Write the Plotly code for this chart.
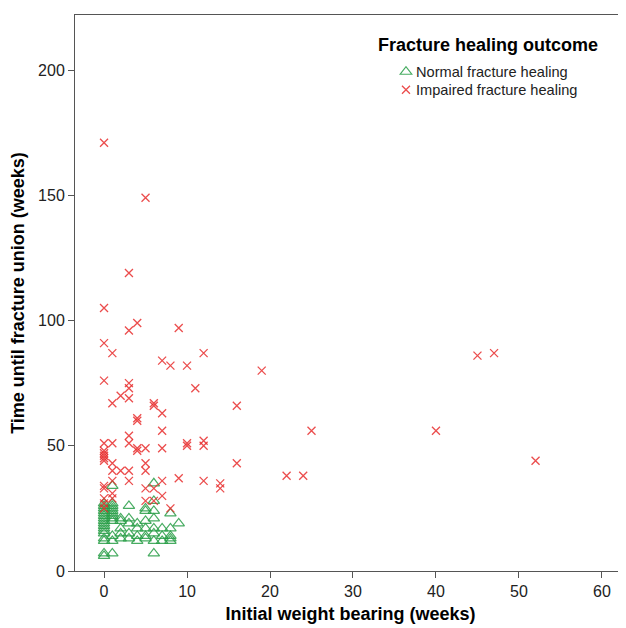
import plotly.graph_objects as go

# Normal fracture healing (green triangles)
normal_x = ([0]*17 + [1]*12 + [2]*5 + [3]*5 + [4]*4 + [5]*6 + [6]*8 + [7]*3 + [8]*5 + [9])
normal_y = ([27, 26, 25, 24, 23, 22, 21, 20, 19, 18, 17, 16, 15, 13, 12, 7, 6] +
            [34, 27, 26, 25, 24, 23, 22, 21, 20, 14, 12, 7] +
            [21, 20, 17, 15, 13] +
            [26, 21, 19, 15, 13] +
            [19, 17, 14, 12] +
            [25, 24, 20, 17, 14, 13] +
            [35, 28, 24, 21, 17, 15, 12, 7] +
            [17, 14, 12] +
            [23, 17, 14, 13, 12] +
            [19])

# Impaired fracture healing (red crosses)
impaired_x = ([0]*15 + [1]*8 + [2]*2 + [3]*9 + [4]*5 + [5]*6 + [6]*4 + [7]*6 + [8]*2 + [9]*2 +
              [10]*3 + [11] + [12]*4 + [14]*2 + [16]*2 + [19, 22, 24, 25, 40, 45, 47, 52])
impaired_y = ([171, 105, 91, 76, 51, 48, 47, 46, 45, 44, 34, 33, 29, 27, 25] +
              [87, 67, 51, 43, 40, 36, 31, 29] +
              [70, 40] +
              [119, 96, 75, 73, 69, 54, 51, 40, 36] +
              [99, 61, 60, 49, 48] +
              [149, 49, 43, 40, 33, 28] +
              [67, 66, 33, 28] +
              [84, 63, 56, 49, 36, 30] +
              [82, 25] +
              [97, 37] +
              [82, 51, 50] +
              [73] +
              [87, 52, 50, 36] +
              [35, 33] +
              [66, 43] +
              [80, 38, 38, 56, 56, 86, 87, 44])

x_ticks = [0, 10, 20, 30, 40, 50, 60]
y_ticks = [0, 50, 100, 150, 200]
series_names = ["Normal fracture healing", "Impaired fracture healing"]
legend_title = "Fracture healing outcome"

FONT = "Arial, Liberation Sans, sans-serif"
GREEN = "rgba(40,158,70,0.85)"
RED = "rgba(232,45,45,0.85)"

fig = go.Figure()
fig.add_trace(go.Scatter(
    x=normal_x, y=normal_y, mode="markers", name="", legend="legend",
    marker=dict(symbol="triangle-up-open", size=10, color=GREEN, line=dict(width=1.2, color=GREEN)),
))
fig.add_trace(go.Scatter(
    x=impaired_x, y=impaired_y, mode="markers", name="", legend="legend2",
    marker=dict(symbol="x-thin-open", size=8, color=RED, line=dict(width=1.3, color=RED)),
))

leg_common = dict(xanchor="left", yanchor="middle", bgcolor="rgba(0,0,0,0)",
                  font=dict(family=FONT, size=15, color="#222"), itemwidth=30)

fig.update_layout(
    width=626, height=628,
    margin=dict(l=67, r=8, t=7, b=65),
    plot_bgcolor="white", paper_bgcolor="white",
    font=dict(family=FONT, size=15, color="#222"),
    showlegend=True,
    legend=dict(x=0.5644, y=0.8975, **leg_common),
    legend2=dict(x=0.5644, y=0.865, **leg_common),
    annotations=[
        dict(text="<b>" + legend_title + "</b>", x=0.7495, y=0.946, xref="paper", yref="paper",
             xanchor="center", yanchor="middle", showarrow=False,
             font=dict(family=FONT, size=18, color="black")),
        dict(text=series_names[0], x=0.6154, y=0.8975, xref="paper", yref="paper",
             xanchor="left", yanchor="middle", showarrow=False,
             font=dict(family=FONT, size=14.6, color="#222")),
        dict(text=series_names[1], x=0.6154, y=0.865, xref="paper", yref="paper",
             xanchor="left", yanchor="middle", showarrow=False,
             font=dict(family=FONT, size=14.6, color="#222")),
    ],
)
fig.update_xaxes(
    range=[-3.5, 62.9], tickvals=x_ticks, ticktext=[str(v) for v in x_ticks],
    showgrid=False, zeroline=False, showline=True, linecolor="#555", linewidth=1,
    mirror=True, ticks="outside", ticklen=6, tickcolor="#555", automargin=False,
    tickfont=dict(family=FONT, size=16, color="#222"),
    title=dict(text="<b>Initial weight bearing (weeks)</b>", font=dict(family=FONT, size=18, color="black"), standoff=8),
)
fig.update_yaxes(
    range=[0, 222], tickvals=y_ticks, ticktext=[str(v) for v in y_ticks],
    showgrid=False, zeroline=False, showline=True, linecolor="#555", linewidth=1,
    ticks="outside", ticklen=6, tickcolor="#555", automargin=False,
    tickfont=dict(family=FONT, size=16, color="#222"),
    title=dict(text="<b>Time until fracture union (weeks)</b>", font=dict(family=FONT, size=18, color="black"), standoff=10),
)

fig.write_html("out.html")
